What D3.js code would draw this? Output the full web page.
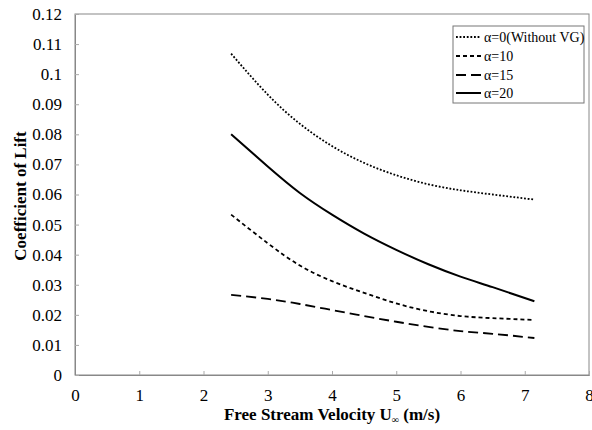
<!DOCTYPE html>
<html>
<head>
<meta charset="utf-8">
<script src="https://cdn.jsdelivr.net/npm/d3@7"></script>
<style>
  html, body { margin: 0; padding: 0; background: #fff; }
  svg { display: block; }
</style>
</head>
<body>
<svg id="chart" width="592" height="430"></svg>
<script>
// ---- data ----
const velocity = [2.43, 3.0, 3.5, 4.0, 4.5, 5.0, 5.5, 6.0, 6.5, 7.15];
const clAlpha0  = [0.1068, 0.0932, 0.0835, 0.0761, 0.0705, 0.0664, 0.0634, 0.0614, 0.0600, 0.0583];
const clAlpha10 = [0.0533, 0.0438, 0.0364, 0.0312, 0.0273, 0.0238, 0.0212, 0.0196, 0.0189, 0.0183];
const clAlpha15 = [0.0266, 0.0253, 0.0236, 0.0216, 0.0196, 0.0177, 0.0160, 0.0146, 0.0137, 0.0123];
const clAlpha20 = [0.0800, 0.0693, 0.0605, 0.0533, 0.0470, 0.0416, 0.0368, 0.0327, 0.0292, 0.0245];
const seriesNames = ["α=0(Without VG)", "α=10", "α=15", "α=20"];
const xTicks = [0, 1, 2, 3, 4, 5, 6, 7, 8];
const yTicks = [0, 0.01, 0.02, 0.03, 0.04, 0.05, 0.06, 0.07, 0.08, 0.09, 0.1, 0.11, 0.12];

const FONT = '"Liberation Serif", "Times New Roman", Times, "DejaVu Serif", serif';

const series = [
  { name: seriesNames[0], values: clAlpha0,  dash: "1.8,1.8", width: 1.8 },
  { name: seriesNames[1], values: clAlpha10, dash: "4,3",     width: 1.8 },
  { name: seriesNames[2], values: clAlpha15, dash: "10,5",    width: 1.8 },
  { name: seriesNames[3], values: clAlpha20, dash: null,      width: 2 }
];

const svg = d3.select("#chart");
const L = 75, R = 589, T = 14, B = 375;
const x = d3.scaleLinear().domain([0, 8]).range([L, R]);
const y = d3.scaleLinear().domain([0, 0.12]).range([B, T]);

// frame
svg.append("rect").attr("x", L).attr("y", T).attr("width", R - L).attr("height", B - T)
  .attr("fill", "none").attr("stroke", "#888").attr("stroke-width", 1);

// axes with inward ticks
const xAxis = d3.axisBottom(x).tickValues(xTicks).tickSize(-4).tickPadding(14)
  .tickFormat(d3.format("d"));
const gx = svg.append("g").attr("transform", `translate(0,${B})`).call(xAxis);
gx.attr("font-family", null);
gx.select(".domain").attr("stroke", "#888");
gx.selectAll(".tick line").attr("stroke", "#aaa");
gx.selectAll("text").style("font-family", FONT).style("font-size", "17px").attr("fill", "#000");

const yAxis = d3.axisLeft(y).tickValues(yTicks).tickSize(-4).tickPadding(13)
  .tickFormat(d => d === 0 ? "0" : String(+d.toFixed(2)));
const gy = svg.append("g").attr("transform", `translate(${L},0)`).call(yAxis);
gy.attr("font-family", null);
gy.select(".domain").attr("stroke", "#888");
gy.selectAll(".tick line").attr("stroke", "#aaa");
gy.selectAll("text").style("font-family", FONT).style("font-size", "17px").attr("fill", "#000");

// lines
const line = d3.line().x(d => x(d[0])).y(d => y(d[1])).curve(d3.curveNatural);
series.forEach(s => {
  svg.append("path")
    .datum(velocity.map((v, i) => [v, s.values[i]]))
    .attr("d", line)
    .attr("fill", "none")
    .attr("stroke", "#000")
    .attr("stroke-width", s.width)
    .attr("stroke-dasharray", s.dash);
});

// axis titles
const xt = svg.append("text").attr("x", 332).attr("y", 420).attr("text-anchor", "middle")
  .style("font-family", FONT).style("font-size", "17px").style("font-weight", "bold");
xt.append("tspan").text("Free Stream Velocity U");
xt.append("tspan").style("font-size", "10px").attr("dy", 3).text("∞");
xt.append("tspan").attr("dy", -3).text(" (m/s)");

svg.append("text").attr("transform", "translate(26,196) rotate(-90)")
  .attr("text-anchor", "middle")
  .style("font-family", FONT).style("font-size", "17px").style("font-weight", "bold")
  .text("Coefficient of Lift");

// legend
const lg = svg.append("g");
lg.append("rect").attr("x", 453).attr("y", 26).attr("width", 131).attr("height", 77)
  .attr("fill", "#fff").attr("stroke", "#777").attr("stroke-width", 1);
const rowsY = [37, 56, 75, 93];
series.forEach((s, i) => {
  lg.append("line").attr("x1", 456).attr("x2", 481)
    .attr("y1", rowsY[i]).attr("y2", rowsY[i])
    .attr("stroke", "#000").attr("stroke-width", s.width)
    .attr("stroke-dasharray", s.dash);
  lg.append("text").attr("x", 484).attr("y", rowsY[i] + 4.5)
    .style("font-family", FONT).style("font-size", "14px").text(s.name);
});
</script>
</body>
</html>
